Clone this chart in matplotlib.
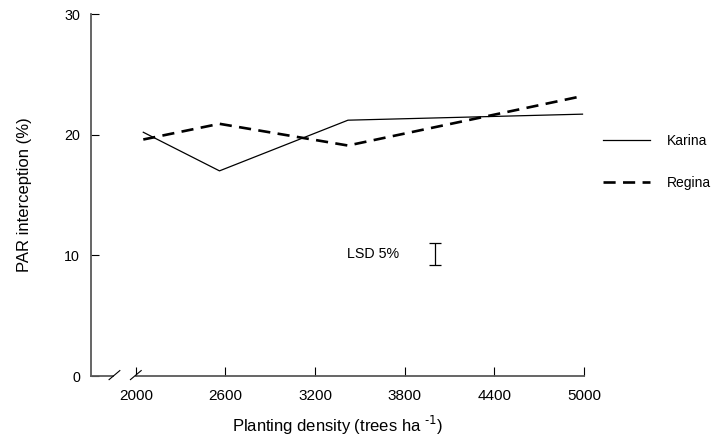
import matplotlib
matplotlib.use('Agg')
import matplotlib.pyplot as plt
import numpy as np

plt.rcParams['font.family'] = ['Liberation Sans', 'DejaVu Sans']

# planting density (trees/ha) and PAR interception (%)
density = [2050, 2560, 3420, 4990]
karina = [20.2, 17.0, 21.2, 21.7]
regina = [19.6, 20.9, 19.1, 23.2]
xticks = [2000, 2600, 3200, 3800, 4400, 5000]
yticks = [0, 10, 20, 30]
lsd_x = 4000
lsd_mid = 10.1
lsd_half = 0.9

fig = plt.figure(figsize=(7.15, 4.43), dpi=100)
ax = fig.add_axes([91/715, 1-376/443, (584-91)/715, (376-14)/443])

ax.plot(density, karina, color='k', lw=0.9, label='Karina')
ax.plot(density, regina, color='k', lw=1.9, linestyle=(0, (4.6, 2.8)), label='Regina')

# LSD bar
ax.errorbar([lsd_x], [lsd_mid], yerr=[lsd_half], color='k', lw=0.9, capsize=4, capthick=0.9)
ax.text(lsd_x - 235, lsd_mid, 'LSD 5%', ha='right', va='center', fontsize=10.3)

ax.set_xlim(1700, 5000)
ax.set_ylim(0, 30)
ax.set_xticks(xticks)
ax.set_yticks(yticks)
ax.tick_params(axis='both', direction='in', color='k', width=0.8)
ax.tick_params(axis='y', length=6, pad=8, labelsize=10.3)
ax.tick_params(axis='x', length=6.5, pad=9, labelsize=11)

for s in ['top', 'right', 'bottom']:
    ax.spines[s].set_visible(False)
ax.spines['left'].set_color('0.35')
ax.spines['left'].set_linewidth(1.3)

# broken x axis
ax.plot([1700, 1845], [0, 0], color='0.35', lw=1.3, clip_on=False)
ax.plot([2000, 5000], [0, 0], color='0.35', lw=1.3, clip_on=False)
for xb in [1857, 2000]:
    ax.plot([xb - 36, xb + 36], [-0.3, 0.45], color='k', lw=0.8, clip_on=False)

ax.set_xlabel('Planting density (trees ha $^{\\text{-1}}$)', fontsize=12, labelpad=8)
ax.set_ylabel('PAR interception (%)', fontsize=12, labelpad=23)

ax.legend(loc='center left', bbox_to_anchor=(603/715, 1-162/443), bbox_transform=fig.transFigure,
          frameon=False, fontsize=10, handlelength=3.4, handletextpad=1.2, labelspacing=2.05,
          borderpad=0, borderaxespad=0)

fig.savefig('out.png', dpi=100)
